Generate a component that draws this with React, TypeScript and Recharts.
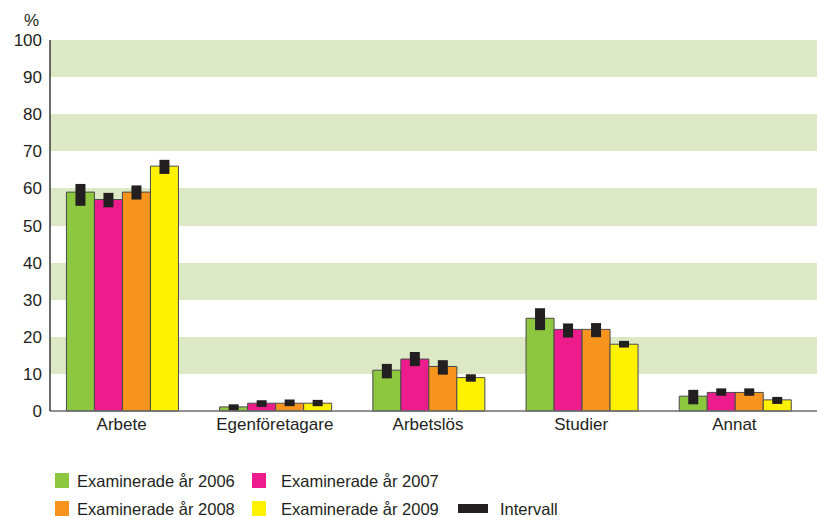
import { BarChart, Bar, XAxis, YAxis, ErrorBar, CartesianGrid } from 'recharts'

const categories = ['Arbete', 'Egenföretagare', 'Arbetslös', 'Studier', 'Annat']

// andel (%) per examensår
const v2006 = [59, 1.1, 11, 25, 4]
const v2007 = [57, 2.1, 14, 22, 5]
const v2008 = [59, 2.1, 12, 22, 5]
const v2009 = [66, 2.1, 9, 18, 3]

// intervall: nedre / övre gräns
const lo2006 = [55.3, 0.1, 8.8, 21.8, 1.8]
const hi2006 = [61.2, 1.8, 12.7, 27.7, 5.7]
const lo2007 = [54.9, 1.1, 12.1, 19.8, 4.1]
const hi2007 = [58.8, 2.9, 15.9, 23.6, 6.1]
const lo2008 = [57.0, 1.3, 9.8, 19.9, 4.1]
const hi2008 = [60.8, 3.1, 13.7, 23.7, 6.1]
const lo2009 = [63.9, 1.3, 7.9, 17.1, 1.9]
const hi2009 = [67.7, 3.0, 9.9, 18.9, 3.8]

const yTicks = [0, 10, 20, 30, 40, 50, 60, 70, 80, 90, 100]

const seriesNames = ['Examinerade år 2006', 'Examinerade år 2007', 'Examinerade år 2008', 'Examinerade år 2009']
const intervalName = 'Intervall'

const COLORS = ['#8dc63f', '#ec1c8c', '#f7941d', '#fff200']
const BAND = '#dce9c4'
const INK = '#231f20'
const FONT = '"Liberation Sans", Arial, sans-serif'

const err = (v: number[], lo: number[], hi: number[], i: number) => [v[i] - lo[i], hi[i] - v[i]]

const data = categories.map((name, i) => ({
  name,
  v2006: v2006[i],
  v2007: v2007[i],
  v2008: v2008[i],
  v2009: v2009[i],
  e2006: err(v2006, lo2006, hi2006, i),
  e2007: err(v2007, lo2007, hi2007, i),
  e2008: err(v2008, lo2008, hi2008, i),
  e2009: err(v2009, lo2009, hi2009, i),
}))

const keys = ['2006', '2007', '2008', '2009']

function LegendBox() {
  const items = [
    { x: 55, y: 473, tx: 77, label: seriesNames[0], color: COLORS[0] },
    { x: 252, y: 473, tx: 281, label: seriesNames[1], color: COLORS[1] },
    { x: 55, y: 501, tx: 77, label: seriesNames[2], color: COLORS[2] },
    { x: 252, y: 501, tx: 281, label: seriesNames[3], color: COLORS[3] },
  ]
  return (
    <svg width={817} height={517} style={{ position: 'absolute', left: 0, top: 0, pointerEvents: 'none' }}>
      <text x={24} y={26} fontSize={17} fill={INK} fontFamily={FONT}>%</text>
      {items.map(it => (
        <g key={it.label}>
          <rect x={it.x} y={it.y} width={14} height={15} fill={it.color} />
          <text x={it.tx} y={it.y + 14} fontSize={16.5} fill={INK} fontFamily={FONT}>{it.label}</text>
        </g>
      ))}
      <rect x={458} y={504} width={30} height={9} fill={INK} />
      <text x={500} y={515} fontSize={16.5} fill={INK} fontFamily={FONT}>{intervalName}</text>
    </svg>
  )
}

export default function App() {
  return (
    <div style={{ position: 'absolute', left: 0, top: 0, width: 817, height: 517, background: '#fff', fontFamily: FONT }}>
      <BarChart
        width={817}
        height={517}
        data={data}
        margin={{ top: 40, right: 0, bottom: 0, left: 0 }}
        barCategoryGap="14%"
        barGap={0}
      >
        {/* alternating stripes: 90–100, 70–80, ... filled */}
        <CartesianGrid vertical={false} stroke="transparent" horizontalFill={[BAND, '#ffffff']} fillOpacity={1} />
        <XAxis
          dataKey="name"
          height={106}
          padding={{ left: -5, right: 6 }}
          tickLine={false}
          tickSize={0}
          tickMargin={7}
          axisLine={{ stroke: '#6d6d6d', strokeWidth: 1.5 }}
          tick={{ fontSize: 17, fill: INK, fontFamily: FONT }}
          interval={0}
        />
        <YAxis
          width={50}
          domain={[0, 100]}
          ticks={yTicks}
          interval={0}
          tickLine={false}
          axisLine={{ stroke: '#3a3a3a', strokeWidth: 1.5 }}
          tick={{ fontSize: 17, fill: INK, fontFamily: FONT }}
        />
        {keys.map((k, i) => (
          <Bar
            key={k}
            dataKey={`v${k}`}
            name={seriesNames[i]}
            fill={COLORS[i]}
            stroke="#4a4a4a"
            strokeWidth={1}
            isAnimationActive={false}
          >
            <ErrorBar dataKey={`e${k}`} direction="y" width={0} stroke={INK} strokeWidth={10} isAnimationActive={false} />
          </Bar>
        ))}
      </BarChart>
      <LegendBox />
    </div>
  )
}
